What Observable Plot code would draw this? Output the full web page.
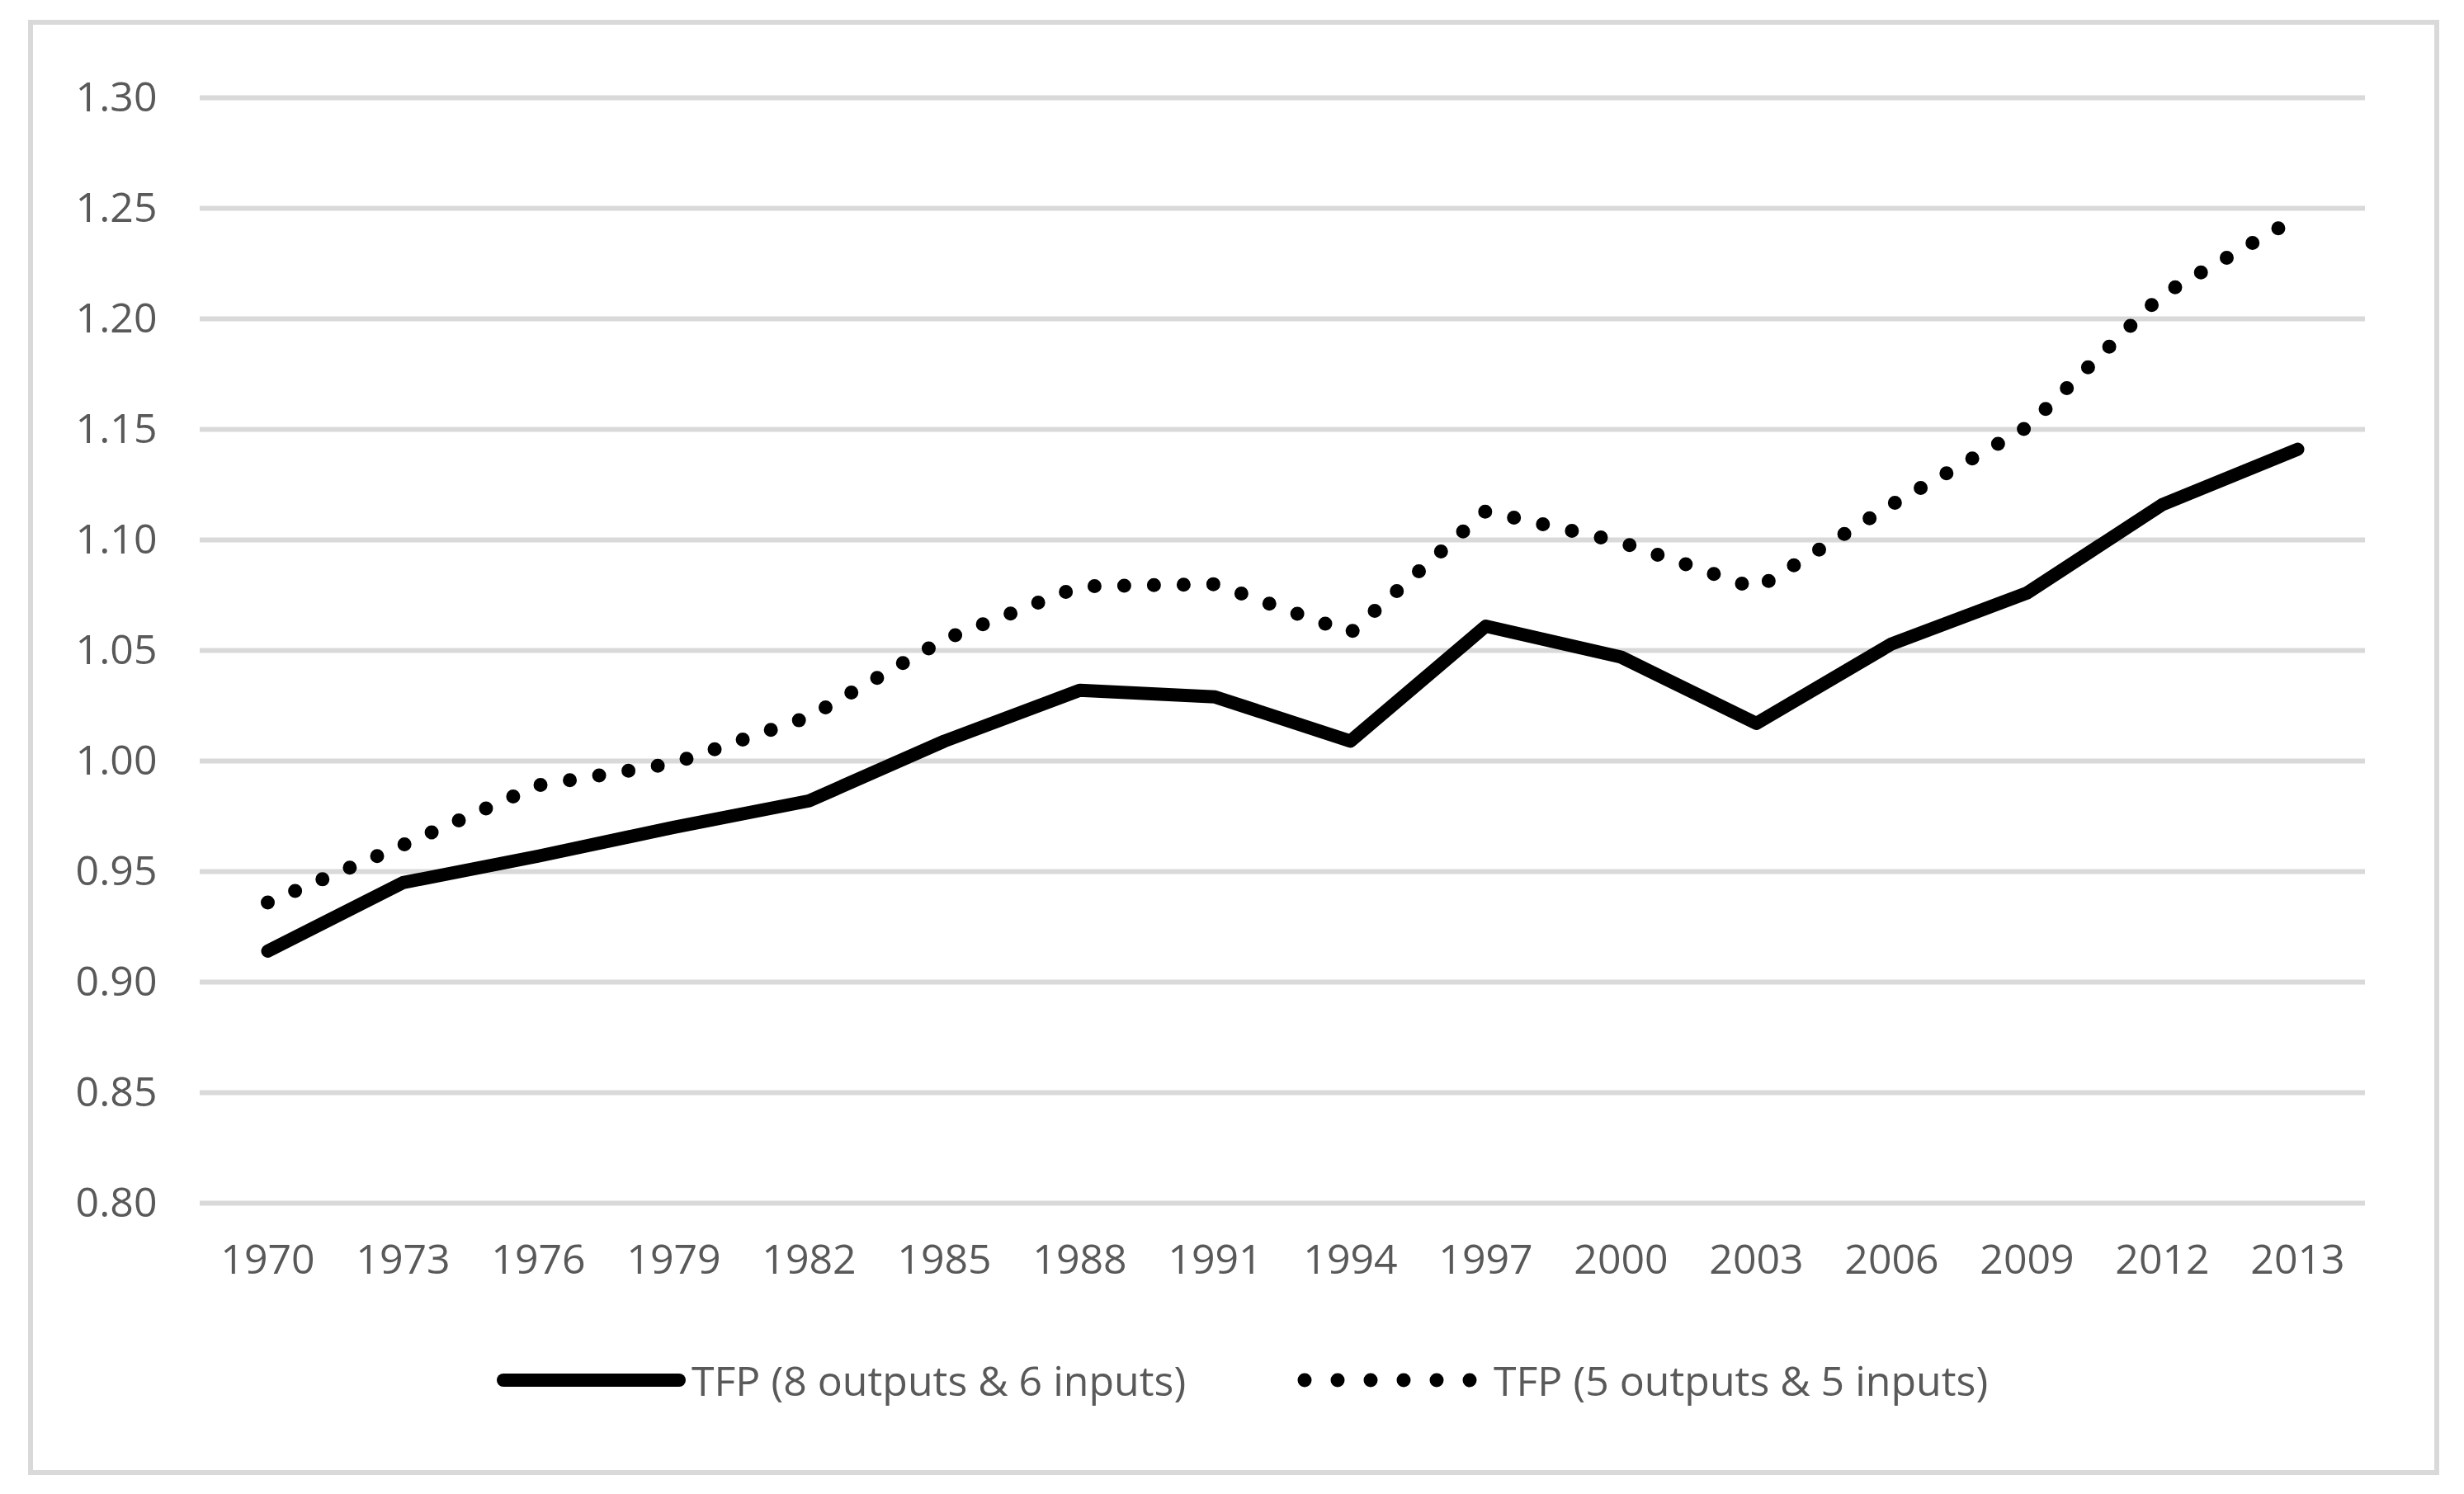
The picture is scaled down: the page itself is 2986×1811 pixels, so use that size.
<!DOCTYPE html>
<html>
<head>
<meta charset="utf-8">
<script src="https://cdn.jsdelivr.net/npm/d3@7"></script>
<script src="https://cdn.jsdelivr.net/npm/@observablehq/plot@0.6"></script>
<style>
  html, body { margin: 0; padding: 0; background: #ffffff; }
  #wrap { position: relative; width: 2986px; height: 1811px; overflow: hidden; font-family: 'Open Sans', sans-serif; }
  #frame { position: absolute; left: 34px; top: 24px; width: 2922px; height: 1764px; box-sizing: border-box; border: 6px solid #d9d9d9; }
  #chart { position: absolute; left: 0; top: 0; }
  .lg-swatch { position: absolute; }
  .lg-text { position: absolute; font-size: 50px; line-height: 60px; color: #595959; white-space: nowrap; }
</style>
</head>
<body>
<div id="wrap">
  <div id="frame"></div>
  <div id="chart"></div>
  <div id="legend"></div>
</div>
<script>
// Categories (x axis)
const years = ["1970","1973","1976","1979","1982","1985","1988","1991","1994","1997","2000","2003","2006","2009","2012","2013"];
// Series values
const tfp8out6in = [0.914, 0.945, 0.957, 0.970, 0.982, 1.009, 1.032, 1.029, 1.009, 1.061, 1.047, 1.017, 1.053, 1.076, 1.116, 1.141];
const tfp5out5in = [0.936, 0.962, 0.989, 0.999, 1.020, 1.055, 1.079, 1.080, 1.058, 1.113, 1.099, 1.078, 1.116, 1.151, 1.211, 1.246];
// Y tick labels
const yTicks = [0.80, 0.85, 0.90, 0.95, 1.00, 1.05, 1.10, 1.15, 1.20, 1.25, 1.30];
// Series names
const seriesNames = ["TFP (8 outputs & 6 inputs)", "TFP (5 outputs & 5 inputs)"];

const rowsA = years.map((y, i) => ({year: y, value: tfp8out6in[i]}));
const rowsB = years.map((y, i) => ({year: y, value: tfp5out5in[i]}));

const chart = Plot.plot({
  width: 2986,
  height: 1600,
  marginLeft: 242,
  marginRight: 120,
  marginTop: 118,
  marginBottom: 142,
  style: {fontFamily: "'Open Sans', sans-serif", fontSize: "50px", color: "#595959", background: "transparent"},
  x: {type: "point", domain: years, padding: 0.5, label: null},
  y: {domain: [0.8, 1.3], label: null},
  marks: [
    Plot.gridY(yTicks, {stroke: "#d9d9d9", strokeOpacity: 1, strokeWidth: 6}),
    Plot.axisY(yTicks, {tickSize: 0, tickPadding: 52, tickFormat: d => d.toFixed(2), fontSize: 50, fill: "#595959", label: null}),
    Plot.axisX({tickSize: 0, tickPadding: 50, fontSize: 50, fill: "#595959", label: null}),
    Plot.line(rowsB, {x: "year", y: "value", stroke: "#000000", strokeWidth: 17, strokeDasharray: "0 36", strokeLinecap: "round", strokeLinejoin: "round"}),
    Plot.line(rowsA, {x: "year", y: "value", stroke: "#000000", strokeWidth: 16, strokeLinecap: "round", strokeLinejoin: "round"})
  ]
});
document.getElementById("chart").appendChild(chart);

// Legend (below the SVG)
const legend = document.getElementById("legend");
const ns = "http://www.w3.org/2000/svg";
function swatch(left, len, dashed) {
  const s = document.createElementNS(ns, "svg");
  s.setAttribute("width", len + 24);
  s.setAttribute("height", 40);
  s.setAttribute("class", "lg-swatch");
  s.style.left = (left - 10) + "px";
  s.style.top = "1653px";
  const l = document.createElementNS(ns, "line");
  l.setAttribute("x1", 10); l.setAttribute("x2", 10 + len + (dashed ? 1 : 0));
  l.setAttribute("y1", 20); l.setAttribute("y2", 20);
  l.setAttribute("stroke", "#000");
  l.setAttribute("stroke-width", dashed ? 17 : 16);
  l.setAttribute("stroke-linecap", "round");
  if (dashed) l.setAttribute("stroke-dasharray", "0 40");
  s.appendChild(l);
  legend.appendChild(s);
}
function label(left, text) {
  const d = document.createElement("div");
  d.className = "lg-text";
  d.style.left = left + "px";
  d.style.top = "1643px";
  d.textContent = text;
  legend.appendChild(d);
}
swatch(610, 213, false);
label(838, seriesNames[0]);
swatch(1581, 200, true);
label(1810, seriesNames[1]);
</script>
</body>
</html>
